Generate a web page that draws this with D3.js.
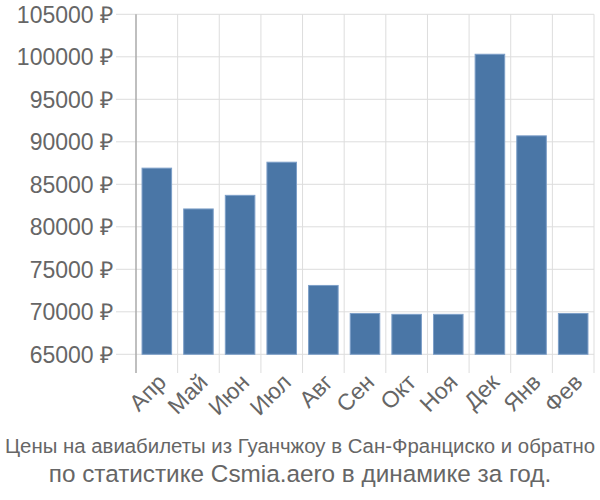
<!DOCTYPE html>
<html><head><meta charset="utf-8">
<script src="https://cdn.jsdelivr.net/npm/d3@7"></script>
<style>body{margin:0;background:#fff}text{font-family:"Liberation Sans",Arial,sans-serif}</style>
</head><body><svg id="c" width="600" height="500"></svg>
<script>
const categories = ["Апр","Май","Июн","Июл","Авг","Сен","Окт","Ноя","Дек","Янв","Фев"];
const prices = [86900, 82100, 83700, 87600, 73100, 69800, 69700, 69700, 100300, 90700, 69800];
const yTicks = [65000,70000,75000,80000,85000,90000,95000,100000,105000];
const titleLines = ["Цены на авиабилеты из Гуанчжоу в Сан-Франциско и обратно","по статистике Csmia.aero в динамике за год."];

(function(){
const svg = d3.select("#c");
const pL = 136, pR = 594, pT = 14.3, pB = 354.3;
const x = d3.scaleBand().domain(categories).range([pL, pR]).paddingInner(0.29).paddingOuter(0.145);
const y = d3.scaleLinear().domain([65000, 105000]).range([pB, pT]);
const step = x.step();

svg.append("g").selectAll("line").data(yTicks).join("line")
  .attr("x1", 116).attr("x2", pR).attr("y1", d => y(d)).attr("y2", d => y(d))
  .attr("stroke", "#ddd").attr("stroke-width", 1);
const bounds = categories.map(c => x(c) - step * 0.145).concat([pR]);
svg.append("g").selectAll("line").data(bounds.slice(1)).join("line")
  .attr("x1", d => d).attr("x2", d => d).attr("y1", pT).attr("y2", 373)
  .attr("stroke", "#ddd").attr("stroke-width", 1);
svg.append("line").attr("x1", pL).attr("x2", pL).attr("y1", pT).attr("y2", 373)
  .attr("stroke", "#aaa").attr("stroke-width", 1.5);

svg.append("g").selectAll("rect").data(prices).join("rect")
  .attr("x", (d, i) => x(categories[i]))
  .attr("width", x.bandwidth())
  .attr("y", d => y(d))
  .attr("height", d => pB - y(d))
  .attr("fill", "#4a76a6").attr("stroke", "#7d9fc8").attr("stroke-width", 1);

svg.append("g").selectAll("text").data(yTicks).join("text")
  .attr("x", 113).attr("y", d => y(d)).attr("dy", "0.36em")
  .attr("text-anchor", "end").attr("font-size", 23).attr("fill", "#666")
  .text(d => d + " ₽");

svg.append("g").selectAll("text").data(categories).join("text")
  .attr("transform", d => `translate(${x(d) + x.bandwidth()/2 + 5},${378}) rotate(-45)`)
  .attr("text-anchor", "end").attr("dy", "0.35em").attr("font-size", 23).attr("fill", "#666")
  .text(d => d);

svg.append("text").attr("x", 300).attr("y", 453).attr("text-anchor", "middle")
  .attr("font-size", 20).attr("fill", "#666")
  .attr("textLength", 590).attr("lengthAdjust", "spacingAndGlyphs").text(titleLines[0]);
svg.append("text").attr("x", 300).attr("y", 482).attr("text-anchor", "middle")
  .attr("font-size", 24.3).attr("fill", "#666").text(titleLines[1]);
})();
</script></body></html>
